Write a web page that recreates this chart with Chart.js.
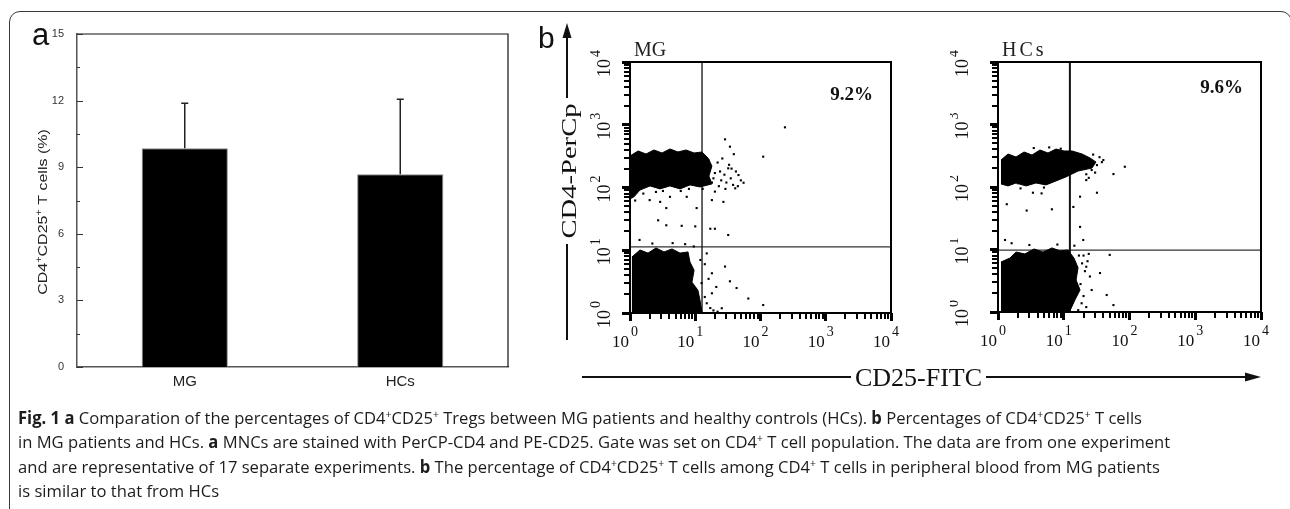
<!DOCTYPE html>
<html>
<head>
<meta charset="utf-8">
<title>Fig. 1</title>
<script src="https://cdn.jsdelivr.net/npm/chart.js@4.4.1/dist/chart.umd.min.js"></script>
<style>
  html, body { margin: 0; padding: 0; background: #fff; }
  body { position: relative; width: 1290px; height: 509px; overflow: hidden; }
  #frame { position: absolute; left: 9px; top: 11px; width: 1283px; height: 620px;
           border: 1.5px solid #3a3a3a; border-radius: 11px; box-sizing: border-box; }
  canvas { position: absolute; }
  #bar { left: 0; top: 0; }
  #mg { left: 585px; top: 35px; }
  #hc { left: 950px; top: 35px; }
  #overlay { position: absolute; left: 0; top: 0; }
  #caption { position: absolute; left: 18px; top: 406px; font-family: "Open Sans", sans-serif;
             font-size: 17px; line-height: 24.4px; color: #1e1b1c; white-space: nowrap;
             transform-origin: 0 0; }
  #caption .ln { width: max-content; }
  #caption b { font-weight: 700; }
  sup { font-size: 0.62em; line-height: 0; vertical-align: 0.6em; }
</style>
</head>
<body>
<div id="frame"></div>
<canvas id="bar" width="530" height="400"></canvas>
<canvas id="mg" width="320" height="320"></canvas>
<canvas id="hc" width="325" height="320"></canvas>

<svg id="overlay" width="1290" height="509">
  <text x="32" y="45" font-family="Liberation Sans, Arial, sans-serif" font-size="31" fill="#111">a</text>
  <text x="538" y="48" font-family="Liberation Sans, Arial, sans-serif" font-size="30" fill="#111">b</text>

  <line x1="567" y1="36" x2="567" y2="98" stroke="#111" stroke-width="2"/>
  <line x1="567" y1="244" x2="567" y2="340" stroke="#111" stroke-width="2"/>
  <polygon points="567,23 562.5,38 571.5,38" fill="#111"/>
  <text transform="translate(576 171) rotate(-90) scale(1.3 1)" text-anchor="middle"
        font-family="Liberation Serif, serif" font-size="22" fill="#111">CD4-PerCp</text>

  <line x1="582" y1="377" x2="851" y2="377" stroke="#111" stroke-width="2"/>
  <text x="918.5" y="386" text-anchor="middle" font-family="Liberation Serif, serif"
        font-size="26" fill="#111">CD25-FITC</text>
  <line x1="986" y1="377" x2="1247" y2="377" stroke="#111" stroke-width="2"/>
  <polygon points="1261,377 1245,372.5 1245,381.5" fill="#111"/>
</svg>

<div id="caption">
  <div class="ln"><b>Fig. 1 a</b> Comparation of the percentages of CD4<sup>+</sup>CD25<sup>+</sup> Tregs between MG patients and healthy controls (HCs). <b>b</b> Percentages of CD4<sup>+</sup>CD25<sup>+</sup> T cells</div>
  <div class="ln">in MG patients and HCs. <b>a</b> MNCs are stained with PerCP-CD4 and PE-CD25. Gate was set on CD4<sup>+</sup> T cell population. The data are from one experiment</div>
  <div class="ln">and are representative of 17 separate experiments. <b>b</b> The percentage of CD4<sup>+</sup>CD25<sup>+</sup> T cells among CD4<sup>+</sup> T cells in peripheral blood from MG patients</div>
  <div class="ln">is similar to that from HCs</div>
</div>

<script>
// panel a: bar chart
const tregGroups = ["MG", "HCs"];
const tregMeanPct = [9.85, 8.68];
const tregSdPct = [2.03, 3.38];
const pctTicks = [0, 3, 6, 9, 12, 15];
const pctMinorTicks = [1.5, 4.5, 7.5, 10.5, 13.5];

// panel b: flow plots, fluorescence on log axes 10^0..10^4
const decadeTicks = [1, 10, 100, 1000, 10000];
const plotTitles = ["MG", "HCs"];
const upperRightPct = [9.2, 9.6];
const gateCD25 = [12.7, 12.4];
const gateCD4 = [11.3, 9.8];

// outlines of the dense event clouds [CD25, CD4]
const mgUpperCluster = [[1, 318], [1.33, 382], [1.76, 342], [2.33, 396], [3.09, 355], [4.1, 411], [5.44, 368],
  [7.22, 396], [9.6, 355], [12.7, 368], [15.7, 295], [18.0, 220], [16.2, 152], [18.0, 114], [11.8, 102],
  [8.3, 110], [5.84, 95], [4.1, 106], [2.88, 95], [2.03, 106], [1.42, 91], [1.15, 71], [1, 66]];
const mgLowerCluster = [[1.07, 7.8], [1.42, 10.1], [1.89, 9.0], [2.5, 10.9], [3.32, 9.4], [4.4, 10.5],
  [5.84, 9.0], [7.74, 9.4], [8.3, 6.5], [9.6, 4.8], [8.9, 3.1], [11.0, 2.3], [11.8, 1.61], [12.7, 1.04],
  [1.07, 1.04]];
const hcUpperCluster = [[1.11, 270], [1.42, 337], [1.88, 302], [2.49, 363], [3.29, 325], [4.35, 391],
  [5.76, 350], [7.62, 405], [10.1, 377], [13.4, 377], [19.0, 337], [25.1, 291], [30.9, 251], [26.9, 201],
  [16.5, 180], [10.8, 145], [7.62, 125], [5.37, 108], [3.78, 116], [2.67, 104], [1.88, 116], [1.42, 104],
  [1.11, 112]];
const hcLowerCluster = [[1.11, 6.3], [1.52, 7.3], [1.88, 9.1], [2.57, 8.5], [3.53, 10.2], [4.83, 9.1],
  [6.63, 10.6], [8.77, 9.5], [11.6, 9.8], [14.3, 7.3], [16.5, 5.1], [15.4, 3.25], [17.7, 2.25], [14.8, 1.56],
  [12.4, 1.04], [1.11, 1.04]];

// single scattered events [CD25, CD4]
const mgDots = [[237, 910], [110, 310], [28.6, 585], [34, 447], [39, 340], [32, 202], [46, 158], [55, 119],
  [41, 97], [20, 86], [27, 59], [18, 63], [17, 22], [20, 22], [32, 17.5], [10.5, 47], [10, 24], [3.6, 47],
  [3.6, 25], [6.2, 24.5], [1.4, 14.6], [2.0, 63], [2.9, 59], [4.1, 71], [7.4, 71], [2.7, 30],
  [28.6, 5.5], [18, 4.3], [34, 3.2], [43, 2.5], [65, 1.7], [110, 1.34], [25.5, 1.19], [18, 2.06], [15, 1.43],
  [21, 2.6], [15, 8.9], [22, 250], [19, 140], [24, 180], [30, 120], [26, 290], [4.5, 13], [7, 12.5],
  [2.2, 12.8], [9.5, 11.5], [12, 7], [12.5, 3], [16, 230], [20, 170], [25, 130], [28, 160], [35, 140],
  [38, 110], [45, 105], [50, 130], [42, 180], [36, 200], [18, 120], [23, 105], [29, 95], [33, 230], [16, 270],
  [1.2, 62], [1.6, 80], [2.5, 85], [3.2, 88], [6.0, 88], [8.0, 95], [13, 95], [14, 6], [16, 3.5], [14, 1.8],
  [17, 1.2], [19, 1.1], [22, 1.05]];
const hcDots = [[85, 211], [57, 161], [40, 270], [32, 81], [22, 129], [17.7, 70], [14, 48], [17.7, 23],
  [19.8, 14.2], [1.36, 53], [2.73, 42], [6.6, 44], [4.6, 79], [3.4, 81], [2.0, 115], [1.28, 14.2], [1.61, 12.6],
  [50, 8.2], [35.6, 4.2], [26.6, 2.25], [45, 1.87], [57, 1.29], [18.7, 1.38], [22, 5.3], [25, 3.7], [16.6, 1.07],
  [21, 270], [32, 224], [26.6, 187], [3.5, 420], [6, 430], [9, 410], [2.2, 95], [5, 98], [14.5, 11.5],
  [20, 8], [23, 6.5], [8, 12], [3, 11.8], [35, 300], [28, 330], [38, 250], [22, 160], [30, 170], [24, 140],
  [17, 8], [19, 6], [21, 4.5], [18, 2.8], [20, 1.8], [22, 1.2], [24, 8.5]];

const logTickValues = decadeTicks.slice(0, -1)
  .flatMap((d) => [1, 2, 3, 4, 5, 6, 7, 8, 9].map((m) => m * d))
  .concat([decadeTicks[decadeTicks.length - 1]]);

function toXY(pairs) {
  return pairs.map(([x, y]) => ({ x, y }));
}

function drawRich(ctx, parts, x, y, size, family) {
  const supSize = size * 0.68;
  const widths = parts.map(([t, sup]) => {
    ctx.font = `${sup ? supSize : size}px ${family}`;
    return ctx.measureText(t).width;
  });
  const total = widths.reduce((s, w) => s + w, 0);
  let cx = x - total / 2;
  ctx.textAlign = "left";
  parts.forEach(([t, sup], i) => {
    ctx.font = `${sup ? supSize : size}px ${family}`;
    ctx.fillText(t, cx, sup ? y - size * 0.42 : y);
    cx += widths[i];
  });
}

const barExtras = {
  id: "barExtras",
  afterDatasetsDraw(chart) {
    const { ctx, chartArea: a, scales: { y } } = chart;
    const meta = chart.getDatasetMeta(0);
    ctx.save();
    ctx.strokeStyle = "#222";
    ctx.lineWidth = 1.5;
    meta.data.forEach((bar, i) => {
      const top = y.getPixelForValue(tregMeanPct[i] + tregSdPct[i]);
      ctx.beginPath();
      ctx.moveTo(bar.x, bar.y);
      ctx.lineTo(bar.x, top);
      ctx.moveTo(bar.x - 3.5, top);
      ctx.lineTo(bar.x + 3.5, top);
      ctx.stroke();
    });

    ctx.strokeStyle = "#111";
    ctx.lineWidth = 1.2;
    ctx.beginPath();
    ctx.moveTo(a.left, a.top);
    ctx.lineTo(a.right, a.top);
    ctx.lineTo(a.right, a.bottom);
    ctx.stroke();

    ctx.strokeStyle = "#333";
    ctx.lineWidth = 1;
    ctx.beginPath();
    pctTicks.forEach((v) => {
      const py = Math.round(y.getPixelForValue(v)) + 0.5;
      ctx.moveTo(a.left, py);
      ctx.lineTo(a.left + 6, py);
    });
    pctMinorTicks.forEach((v) => {
      const py = Math.round(y.getPixelForValue(v)) + 0.5;
      ctx.moveTo(a.left, py);
      ctx.lineTo(a.left + 3, py);
    });
    ctx.stroke();

    ctx.fillStyle = "#222";
    ctx.translate(47, 212);
    ctx.rotate(-Math.PI / 2);
    ctx.scale(1.28, 1);
    ctx.textBaseline = "alphabetic";
    drawRich(ctx, [["CD4", 0], ["+", 1], ["CD25", 0], ["+", 1], [" T cells (%)", 0]], 0, 0, 12.5,
      '"Liberation Sans", Arial, sans-serif');
    ctx.restore();
  },
};

new Chart(document.getElementById("bar"), {
  type: "bar",
  data: {
    labels: tregGroups,
    datasets: [{
      data: tregMeanPct,
      backgroundColor: "#000",
      borderColor: "#8a8a8a",
      borderWidth: 1,
      categoryPercentage: 0.5,
      barPercentage: 0.8,
    }],
  },
  options: {
    responsive: false,
    animation: false,
    events: [],
    layout: { padding: { top: 34, right: 22, left: 0, bottom: 0 } },
    plugins: { legend: { display: false }, tooltip: { enabled: false } },
    scales: {
      x: {
        grid: { display: false },
        border: { color: "#555", width: 1.5 },
        ticks: { color: "#222", font: { family: '"Liberation Sans", Arial', size: 15 }, padding: -2 },
        afterFit: (s) => { s.height = 33; },
      },
      y: {
        min: 0,
        max: 15,
        afterBuildTicks: (s) => { s.ticks = pctTicks.map((v) => ({ value: v })); },
        grid: { display: false },
        border: { color: "#555", width: 1.5 },
        ticks: { color: "#333", font: { family: '"Liberation Sans", Arial', size: 11 }, padding: 5 },
        afterFit: (s) => { s.width = 77; },
      },
    },
  },
  plugins: [barExtras],
});

const flowText = {
  id: "flowText",
  afterDraw(chart, args, o) {
    const { ctx, chartArea: a, scales: { x, y } } = chart;
    const serif = '"Liberation Serif", "Times New Roman", serif';
    ctx.save();

    // log tick marks, outside the frame
    ctx.fillStyle = "#000";
    logTickValues.forEach((v) => {
      const major = decadeTicks.includes(v);
      const len = major ? 8 : 6;
      const w = major ? 3 : 2;
      const px = Math.round(x.getPixelForValue(v) - w / 2);
      const py = Math.round(y.getPixelForValue(v) - w / 2);
      ctx.fillRect(px, Math.round(a.bottom), w, len);
      ctx.fillRect(Math.round(a.left) - len, py, len, w);
    });

    ctx.strokeStyle = "#000";
    ctx.lineWidth = 2;
    ctx.strokeRect(a.left, a.top, a.width, a.height);

    ctx.fillStyle = "#111";
    ctx.textBaseline = "alphabetic";
    decadeTicks.forEach((v) => {
      const k = String(Math.round(Math.log10(v)));
      const px = x.getPixelForValue(v);
      ctx.textAlign = "right";
      ctx.font = `17px ${serif}`;
      ctx.fillText("10", px - 1, a.bottom + 34);
      ctx.textAlign = "left";
      ctx.font = `14px ${serif}`;
      ctx.fillText(k, px + 1, a.bottom + 23);

      const py = y.getPixelForValue(v);
      ctx.save();
      ctx.translate(a.left - o.yGap, py);
      ctx.rotate(-Math.PI / 2);
      ctx.textAlign = "right";
      ctx.font = `18px ${serif}`;
      ctx.fillText("10", 3, 0);
      ctx.textAlign = "left";
      ctx.font = `14px ${serif}`;
      ctx.fillText(k, 5, -10);
      ctx.restore();
    });

    ctx.fillStyle = "#222";
    ctx.textAlign = "left";
    ctx.font = `20px ${serif}`;
    ctx.letterSpacing = o.titleSpacing;
    ctx.fillText(o.title, a.left + 4, a.top - 6);
    ctx.letterSpacing = "0px";

    ctx.fillStyle = "#111";
    ctx.textAlign = "right";
    ctx.font = `bold 19px ${serif}`;
    ctx.fillText(o.pct.toFixed(1) + "%", a.right - 18, a.top + o.pctDy);
    ctx.restore();
  },
};

function logAxis() {
  return {
    type: "logarithmic",
    min: decadeTicks[0],
    max: decadeTicks[decadeTicks.length - 1],
    ticks: { display: false },
    grid: { display: false },
    border: { color: "#000", width: 2 },
  };
}

function flowChart(id, i, p) {
  const x = logAxis();
  const y = logAxis();
  x.afterFit = (s) => { s.height = p.xAxisH; };
  y.afterFit = (s) => { s.width = p.yAxisW; };
  const cloud = { showLine: true, fill: "shape", backgroundColor: "#000", borderColor: "#000",
    borderWidth: 1, pointRadius: 0, pointHoverRadius: 0 };
  return new Chart(document.getElementById(id), {
    type: "scatter",
    data: {
      datasets: [
        { ...cloud, data: toXY(p.upper) },
        { ...cloud, data: toXY(p.lower) },
        { data: toXY(p.dots), pointStyle: "rect", pointRadius: 1.5, backgroundColor: "#000", borderWidth: 0 },
        { data: [{ x: gateCD25[i], y: decadeTicks[0] }, { x: gateCD25[i], y: decadeTicks[4] }],
          showLine: true, borderColor: "#111", borderWidth: p.gateW, pointRadius: 0 },
        { data: [{ x: decadeTicks[0], y: gateCD4[i] }, { x: decadeTicks[4], y: gateCD4[i] }],
          showLine: true, borderColor: "#333", borderWidth: 1.2, pointRadius: 0 },
      ],
    },
    options: {
      responsive: false,
      animation: false,
      events: [],
      layout: { padding: { top: p.padTop, right: p.padRight, left: 0, bottom: 0 } },
      plugins: {
        legend: { display: false },
        tooltip: { enabled: false },
        flowText: { yGap: p.yGap, title: plotTitles[i], titleSpacing: p.titleSpacing,
          pct: upperRightPct[i], pctDy: p.pctDy },
      },
      scales: { x, y },
    },
    plugins: [flowText],
  });
}

flowChart("mg", 0, { upper: mgUpperCluster, lower: mgLowerCluster, dots: mgDots, gateW: 1.3,
  padTop: 27, padRight: 14, yAxisW: 45, xAxisH: 42, yGap: 20, titleSpacing: "0px", pctDy: 38 });
flowChart("hc", 1, { upper: hcUpperCluster, lower: hcLowerCluster, dots: hcDots, gateW: 2,
  padTop: 27, padRight: 14, yAxisW: 48, xAxisH: 43, yGap: 30, titleSpacing: "3px", pctDy: 31 });

// fit the caption to the width of the printed lines
const cap = document.getElementById("caption");
const firstLine = cap.querySelector(".ln").getBoundingClientRect().width;
cap.style.transform = `scaleX(${1124 / firstLine})`;
</script>
</body>
</html>
